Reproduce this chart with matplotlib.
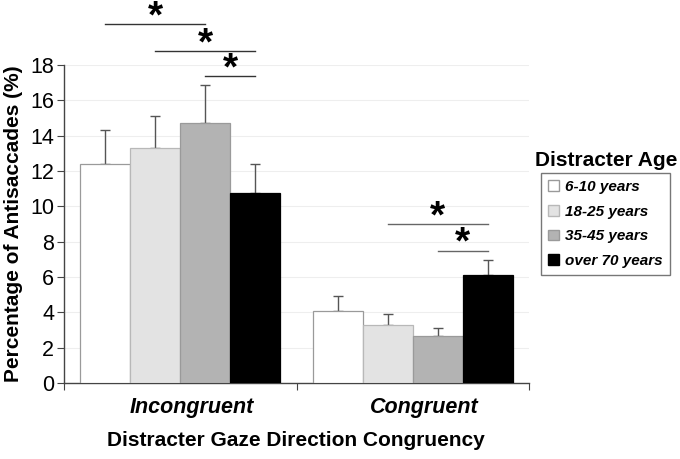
import matplotlib
matplotlib.use("Agg")
import matplotlib.pyplot as plt
import matplotlib.transforms as mtransforms
import numpy as np
from matplotlib.patches import Patch

plt.rcParams['font.family'] = ['Liberation Sans', 'DejaVu Sans']

categories = ["Incongruent", "Congruent"]
series_names = ["6-10 years", "18-25 years", "35-45 years", "over 70 years"]
values = {
    "6-10 years":    [12.4, 4.1],
    "18-25 years":   [13.3, 3.3],
    "35-45 years":   [14.7, 2.65],
    "over 70 years": [10.75, 6.1],
}
errors = {
    "6-10 years":    [1.9, 0.8],
    "18-25 years":   [1.8, 0.6],
    "35-45 years":   [2.15, 0.45],
    "over 70 years": [1.65, 0.85],
}
colors = ["#ffffff", "#e3e3e3", "#b3b3b3", "#000000"]
edges = ["#9a9a9a", "#b8b8b8", "#9a9a9a", "#000000"]
yticks = [0, 2, 4, 6, 8, 10, 12, 14, 16, 18]

# significance brackets: (group, bar_i, bar_j, height)
sig = [(0, 0, 2, 20.3), (0, 1, 3, 18.8), (0, 2, 3, 17.4),
       (1, 1, 3, 9.0), (1, 2, 3, 7.5)]

W, H = 680, 459
fig = plt.figure(figsize=(W/100, H/100), dpi=100)
ax = fig.add_axes([64/W, (H-383)/H, (529-64)/W, (383-65)/H])

bw = 0.215
x = np.arange(len(categories)) + 0.5
offsets = (np.arange(4) - 1.5) * bw
for i, s in enumerate(series_names):
    ax.bar(x + offsets[i], values[s], width=bw, color=colors[i],
           edgecolor=edges[i], linewidth=0.9, zorder=3)
    ax.errorbar(x + offsets[i], values[s], yerr=[np.zeros(2), errors[s]],
                fmt='none', ecolor='#555555', elinewidth=1.0, capsize=3.5,
                capthick=1.0, zorder=2)

ax.set_xlim(0, 2)
ax.set_ylim(0, 18)
ax.set_yticks(yticks)
ax.set_yticklabels([str(t) for t in yticks], fontsize=15.5)
ax.yaxis.grid(True, color='#eeeeee', linewidth=0.8, zorder=0)
ax.set_axisbelow(True)
ax.set_xticks([0, 1, 2])
ax.set_xticklabels([])

# category labels (slightly right of group centre, as in the original)
trans = mtransforms.blended_transform_factory(ax.transData, ax.transAxes) + \
    mtransforms.ScaledTranslation(12/100, -25/100, fig.dpi_scale_trans)
for xi, cat in zip(x, categories):
    ax.text(xi, 0, cat, transform=trans, ha='center', va='center',
            fontsize=15.5, fontweight='bold', fontstyle='italic')

ax.tick_params(axis='x', which='major', length=5, color='#444444')
ax.tick_params(axis='y', length=5, color='#444444', pad=2)
for sp in ['top', 'right']:
    ax.spines[sp].set_visible(False)
for sp in ['left', 'bottom']:
    ax.spines[sp].set_color('#444444')
    ax.spines[sp].set_linewidth(1.0)

ax.set_ylabel("Percentage of Antisaccades (%)", fontsize=15, fontweight='bold',
              labelpad=5)
fig.text(296/W, 1 - 440/H, "Distracter Gaze Direction Congruency",
         ha='center', va='center', fontsize=15, fontweight='bold')

for g, i, j, h in sig:
    x1 = x[g] + offsets[i]
    x2 = x[g] + offsets[j]
    col = '#333333' if g == 0 else '#666666'
    ax.plot([x1, x2], [h, h], color=col, linewidth=1.0, clip_on=False)
    ax.text((x1 + x2) / 2, h - 0.65, "*", ha='center', va='bottom',
            fontsize=28, fontweight='bold', clip_on=False)

handles = [Patch(facecolor=colors[i], edgecolor=edges[i], label=s)
           for i, s in enumerate(series_names)]
fig.text(606/W, 1 - 160/H, "Distracter Age", ha='center', va='center',
         fontsize=15, fontweight='bold')
leg = fig.legend(handles=handles, loc='upper left',
                 bbox_to_anchor=(541/W, 1 - 173/H), frameon=True,
                 fancybox=False, edgecolor='#555555', handlelength=0.7,
                 handleheight=0.7, handletextpad=0.45, labelspacing=0.7,
                 borderpad=0.45, borderaxespad=0,
                 prop={'size': 11, 'weight': 'bold', 'style': 'italic'})
leg.get_frame().set_linewidth(1.0)

fig.savefig("out.png", dpi=100)
